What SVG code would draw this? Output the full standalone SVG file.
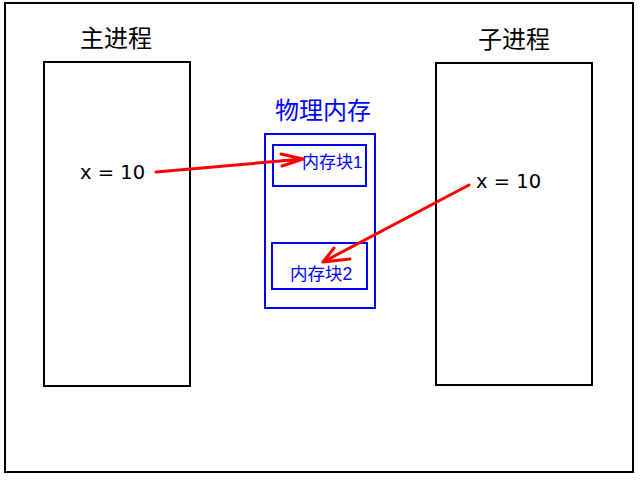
<svg xmlns="http://www.w3.org/2000/svg" width="640" height="480" viewBox="0 0 640 480">
<style>
.frame{fill:#fff;stroke:#000;stroke-width:2}
.proc{fill:none;stroke:#000;stroke-width:2}
.mem{fill:none;stroke:#0000ff;stroke-width:2}
.t{font-family:"Liberation Sans","Noto Sans CJK SC",sans-serif;fill:#000}
.v{font-family:"DejaVu Sans","Liberation Sans",sans-serif;fill:#000;font-size:19.5px}
.tb{font-family:"Liberation Sans","Noto Sans CJK SC",sans-serif;fill:#0000ff}
.arrow{fill:none;stroke:#ff0000;stroke-width:3;stroke-linecap:round;stroke-linejoin:round}
</style>
<rect x="0" y="0" width="640" height="480" fill="#fff"/>
<rect class="frame" x="5" y="3" width="628" height="469"/>
<g id="main-process">
<text class="t" x="116" y="47" font-size="24" text-anchor="middle">主进程</text>
<rect class="proc" x="44" y="62" width="146" height="324"/>
<text class="v" x="80" y="179">x = 10</text>
</g>
<g id="child-process">
<text class="t" x="514" y="48" font-size="24" text-anchor="middle">子进程</text>
<rect class="proc" x="436" y="63" width="156" height="322"/>
<text class="v" x="476" y="188">x = 10</text>
</g>
<g id="physical-memory">
<text class="tb" x="323" y="119" font-size="24" text-anchor="middle">物理内存</text>
<rect class="mem" x="265" y="134" width="110" height="174"/>
</g>
<g id="block1">
<rect class="mem" x="273" y="145" width="93" height="41"/>
<text class="tb" x="302" y="168" font-size="17">内存块1</text>
</g>
<g id="block2">
<rect class="mem" x="272" y="243" width="95" height="46"/>
<text class="tb" x="290" y="280" font-size="17.5">内存块2</text>
</g>
<g id="connectors">
<path class="arrow" d="M156,172 L303,159 M281,154 L303,159 L282,166"/>
<path class="arrow" d="M469,185 L323,262 M334,248 L323,262 L350,259"/>
</g>
</svg>
